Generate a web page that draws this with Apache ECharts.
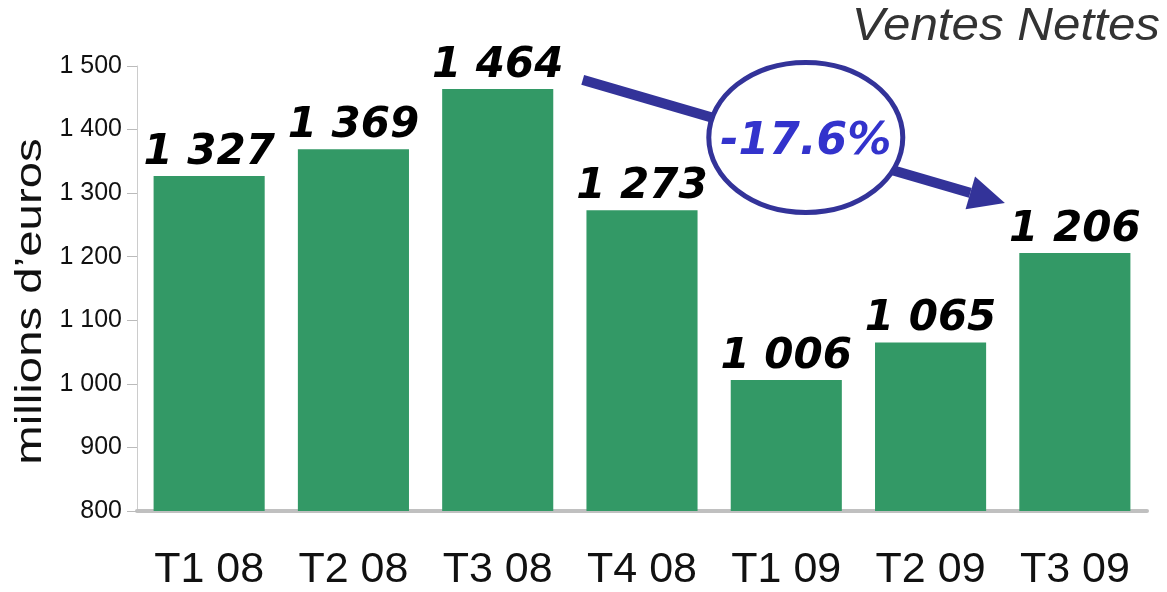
<!DOCTYPE html>
<html>
<head>
<meta charset="utf-8">
<script src="https://cdn.jsdelivr.net/npm/echarts@6/dist/echarts.min.js"></script>
<style>
html,body{margin:0;padding:0;background:#fff;}
#chart{width:1167px;height:592px;}
</style>
</head>
<body>
<div id="chart"></div>
<script>
// Quarterly net sales, millions of euros
const categories = ['T1 08', 'T2 08', 'T3 08', 'T4 08', 'T1 09', 'T2 09', 'T3 09'];
const values = [1327, 1369, 1464, 1273, 1006, 1065, 1206];
const changeLabel = '-17.6%';
const titleText = 'Ventes Nettes';
const yName = 'millions d\u2019euros';

const fmt = v => {
  const s = String(Math.round(v));
  return s.length > 3 ? s.slice(0, s.length - 3) + ' ' + s.slice(-3) : s;
};

const chart = echarts.init(document.getElementById('chart'));
const arrowColor = '#333399';

chart.setOption({
  animation: false,
  grid: { left: 137, right: 20, top: 66, bottom: 80, containLabel: false },
  xAxis: {
    type: 'category',
    data: categories,
    axisLine: { lineStyle: { color: '#c0c0c0', width: 4 } },
    axisTick: { show: false },
    axisLabel: { fontFamily: 'Liberation Sans', fontSize: 43, color: '#111', margin: 38 }
  },
  yAxis: {
    type: 'value',
    min: 800, max: 1500, interval: 100,
    axisLine: { show: true, lineStyle: { color: '#cccccc', width: 1 } },
    axisTick: { show: true, length: 10, lineStyle: { color: '#bbbbbb' } },
    splitLine: { show: false },
    axisLabel: { fontFamily: 'Liberation Sans', fontSize: 25, color: '#111', margin: 15, formatter: fmt }
  },
  series: [{
    type: 'bar',
    data: values,
    barWidth: '77%',
    itemStyle: { color: '#339966' },
    label: {
      show: true,
      position: 'top',
      distance: 2,
      formatter: p => fmt(p.value),
      fontFamily: 'DejaVu Sans',
      fontWeight: 'bold',
      fontStyle: 'italic',
      fontSize: 42,
      color: '#000'
    }
  }]
});

// Trend annotation: arrow from the T3 08 peak to T3 09, with the change in an ellipse
const pStart = chart.convertToPixel({ seriesIndex: 0 }, [2, values[2]]);
const pEnd = chart.convertToPixel({ seriesIndex: 0 }, [6, values[6]]);
const x1 = pStart[0] + 85, y1 = pStart[1] - 9;
const x2 = pEnd[0] - 70, y2 = pEnd[1] - 50;
const ang = Math.atan2(y2 - y1, x2 - x1);
const headLen = 36, headW = 17;
const bx = x2 - headLen * Math.cos(ang), by = y2 - headLen * Math.sin(ang);
const nx = -Math.sin(ang), ny = Math.cos(ang);
const cx = (x1 + x2) / 2 + 12, cy = (y1 + y2) / 2 - 4;

// Axis centre for the rotated axis title
const yTop = chart.convertToPixel({ yAxisIndex: 0 }, 1500);
const yBot = chart.convertToPixel({ yAxisIndex: 0 }, 800);

chart.setOption({
  graphic: [
    { type: 'text', right: 7, top: 3, scaleX: 1.05,
      style: { text: titleText, fill: '#333333', font: 'italic 47px "Liberation Sans"' } },
    { type: 'text', x: 31, y: (yTop + yBot) / 2 + 13, rotation: Math.PI / 2, scaleX: 1.28,
      style: { text: yName, align: 'center', verticalAlign: 'middle', fill: '#111', font: '37px "Liberation Sans"' } },
    { type: 'line', shape: { x1: x1, y1: y1, x2: bx, y2: by }, style: { stroke: arrowColor, lineWidth: 10 }, z: 10 },
    { type: 'polygon', shape: { points: [[x2, y2], [bx + nx * headW, by + ny * headW], [bx - nx * headW, by - ny * headW]] }, style: { fill: arrowColor }, z: 10 },
    { type: 'ellipse', shape: { cx: cx, cy: cy, rx: 97, ry: 75 }, style: { fill: '#ffffff', stroke: arrowColor, lineWidth: 5 }, z: 11 },
    { type: 'text', x: cx, y: cy + 5, z: 12,
      style: { text: changeLabel, align: 'center', verticalAlign: 'middle', fill: '#3333cc',
        font: 'italic bold 44px "DejaVu Sans"' } }
  ]
});
</script>
</body>
</html>
